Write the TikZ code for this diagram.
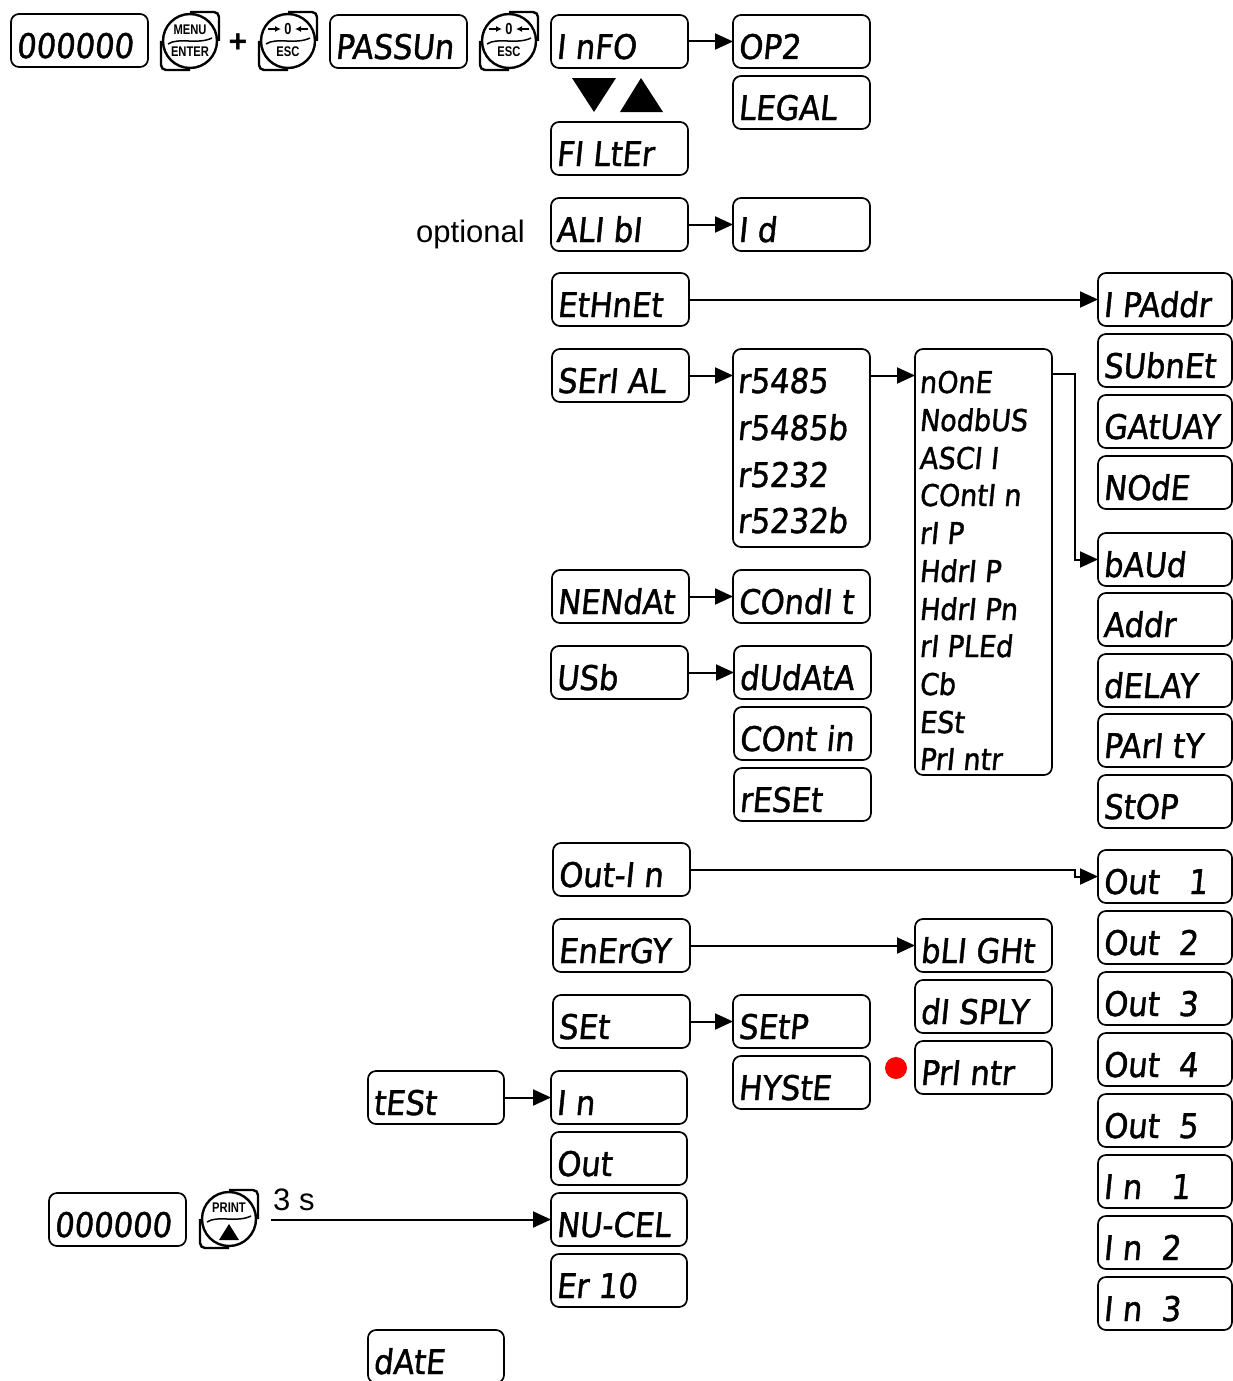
\documentclass[tikz,border=0pt]{standalone}
\usepackage{fontspec}
\setmainfont{Liberation Sans}
\newfontfamily\segfont[FakeStretch=0.9,FakeSlant=0.1,FakeBold=1.2]{DejaVu Sans}
\newfontfamily\keyfont[FakeStretch=0.8]{Liberation Sans}
\usetikzlibrary{arrows.meta,calc}
\tikzset{
  box/.style={draw,line width=1.7pt,rounded corners=8pt,minimum height=53pt,inner sep=0pt,outer sep=0pt},
  seg/.style={font=\segfont\fontsize{34}{34}\selectfont,inner sep=0pt},
  segsmall/.style={font=\segfont\fontsize{30}{30}\selectfont,inner sep=0pt},
  arr/.style={line width=2pt,-{Triangle[length=18pt,width=16pt]}},
  keyline/.style={line width=2.4pt},
  keycirc/.style={circle,draw,fill=white,line width=2.4pt,minimum size=54pt,inner sep=0pt},
  keytxt/.style={font=\keyfont\bfseries\fontsize{14}{14}\selectfont,inner sep=0pt},
  plain/.style={font=\fontsize{31}{31}\selectfont,inner sep=0pt},
}
\newcommand\dbox[5][137]{%
  \node[box,minimum width=#1pt,anchor=north west] (#2) at (#3,#4) {};
  \node[seg,anchor=base west] (#2-t) at ([xshift=5pt,yshift=9pt]#2.south west) {#5};
}
\newcommand\keybtn[3]{%
  \draw[keyline,rounded corners=5pt] (#2,#3-29) -- (#2+29,#3-29) -- (#2+29,#3);
  \draw[keyline,rounded corners=5pt] (#2,#3+29) -- (#2-29,#3+29) -- (#2-29,#3);
  \node[keycirc] (#1) at (#2,#3) {};
}
\newcommand\swash[2]{%
  \draw[line width=1.5pt] (#1-22,#2+3) .. controls (#1-12,#2-4) and (#1+8,#2+4) .. (#1+22,#2-3);
}
\begin{document}
\begin{tikzpicture}[x=1pt,y=-1pt]
\useasboundingbox (0,0) rectangle (1232,1381);

% ---------- top row ----------
\dbox{d0}{11}{14}{000000}
\keybtn{menu}{190}{41}
\node[keytxt] (menu-a) at (190,30) {MENU};
\swash{190}{41}
\node[keytxt] (menu-b) at (190,52) {ENTER};
\node[font=\bfseries\fontsize{32}{32}\selectfont] (plus) at (238,43) {+};
\keybtn{esc1}{288}{41}
\node[keytxt,font=\keyfont\bfseries\fontsize{16}{16}\selectfont] (esc1-z) at (288,29) {0};
\draw[line width=1.4pt,-{Latex[length=6pt,width=6pt]}] (268,29) -- (281,29);
\draw[line width=1.4pt,-{Latex[length=6pt,width=6pt]}] (308,29) -- (295,29);
\swash{288}{41}
\node[keytxt] (esc1-b) at (288,52) {ESC};
\dbox{pass}{330}{15}{PASSUn}
\keybtn{esc2}{509}{41}
\node[keytxt,font=\keyfont\bfseries\fontsize{16}{16}\selectfont] (esc2-z) at (509,29) {0};
\draw[line width=1.4pt,-{Latex[length=6pt,width=6pt]}] (489,29) -- (502,29);
\draw[line width=1.4pt,-{Latex[length=6pt,width=6pt]}] (529,29) -- (516,29);
\swash{509}{41}
\node[keytxt] (esc2-b) at (509,52) {ESC};

\dbox{info}{551}{15}{I nFO}
\dbox{op2}{733}{15}{OP2}
\dbox{legal}{733}{76}{LEGAL}
\fill (572,78) -- (616,78) -- (594,112) -- cycle;
\fill (620,112) -- (663,112) -- (641,78) -- cycle;
\dbox{filter}{551}{122}{FI LtEr}

\node[plain,anchor=base west] (opt) at (416,242) {optional};
\dbox{alibi}{551}{198}{ALI bI}
\dbox{id}{733}{198}{I d}

% ---------- ethernet ----------
\dbox{eth}{552}{273}{EtHnEt}
\dbox[134]{ipaddr}{1098}{273}{I PAddr}
\dbox[134]{subnet}{1098}{334}{SUbnEt}
\dbox[134]{gatway}{1098}{395}{GAtUAY}
\dbox[134]{mode}{1098}{456}{NOdE}

% ---------- serial ----------
\dbox{serial}{552}{349}{SErI AL}
\node[box,minimum width=137pt,minimum height=198pt,anchor=north west] (rs) at (733,349) {};
\node[seg,anchor=base west] (rs1) at (737,393) {r5485};
\node[seg,anchor=base west] (rs2) at (737,440) {r5485b};
\node[seg,anchor=base west] (rs3) at (737,487) {r5232};
\node[seg,anchor=base west] (rs4) at (737,533) {r5232b};

\node[box,minimum width=137pt,minimum height=426pt,anchor=north west] (prot) at (915,349) {};
\node[segsmall,anchor=base west] (p1) at (919,393) {nOnE};
\node[segsmall,anchor=base west] (p2) at (919,431) {NodbUS};
\node[segsmall,anchor=base west] (p3) at (919,469) {ASCI I};
\node[segsmall,anchor=base west] (p4) at (919,506) {COntI n};
\node[segsmall,anchor=base west] (p5) at (919,544) {rI P};
\node[segsmall,anchor=base west] (p6) at (919,582) {HdrI P};
\node[segsmall,anchor=base west] (p7) at (919,620) {HdrI Pn};
\node[segsmall,anchor=base west] (p8) at (919,657) {rI PLEd};
\node[segsmall,anchor=base west] (p9) at (919,695) {Cb};
\node[segsmall,anchor=base west] (p10) at (919,733) {ESt};
\node[segsmall,anchor=base west] (p11) at (919,770) {PrI ntr};

\dbox[134]{baud}{1098}{533}{bAUd}
\dbox[134]{addr}{1098}{593}{Addr}
\dbox[134]{delay}{1098}{654}{dELAY}
\dbox[134]{parity}{1098}{714}{PArI tY}
\dbox[134]{stop}{1098}{775}{StOP}

% ---------- memdat / usb ----------
\dbox{memdat}{552}{570}{NENdAt}
\dbox{condit}{733}{570}{COndI t}
\dbox{usb}{551}{646}{USb}
\dbox{dudata}{734}{646}{dUdAtA}
\dbox{contin}{734}{707}{COnt in}
\dbox{reset}{734}{768}{rESEt}

% ---------- out-in / energy / set ----------
\dbox{outin}{553}{843}{Out-I n}
\dbox{energy}{553}{919}{EnErGY}
\dbox{blight}{915}{919}{bLI GHt}
\dbox{disply}{915}{980}{dI SPLY}
\dbox{printr}{915}{1041}{PrI ntr}
\fill[red] (896,1068) circle[radius=11pt];
\dbox{set}{553}{995}{SEt}
\dbox{setp}{733}{995}{SEtP}
\dbox{hyste}{733}{1056}{HYStE}

\dbox[134]{out1}{1098}{850}{Out \ \ 1}
\dbox[134]{out2}{1098}{911}{Out \ 2}
\dbox[134]{out3}{1098}{972}{Out \ 3}
\dbox[134]{out4}{1098}{1033}{Out \ 4}
\dbox[134]{out5}{1098}{1094}{Out \ 5}
\dbox[134]{in1}{1098}{1155}{I n \ \ 1}
\dbox[134]{in2}{1098}{1216}{I n \ 2}
\dbox[134]{in3}{1098}{1277}{I n \ 3}

% ---------- test ----------
\dbox[136]{test}{368}{1071}{tESt}
\dbox[136]{tin}{551}{1071}{I n}
\dbox[136]{tout}{551}{1132}{Out}
\dbox[136]{mucel}{551}{1193}{NU-CEL}
\dbox[136]{erio}{551}{1254}{Er 10}
\dbox[136]{date}{368}{1330}{dAtE}

\dbox{d1}{49}{1193}{000000}
\keybtn{prt}{229}{1219}
\node[keytxt] (prt-a) at (229,1208) {PRINT};
\swash{229}{1219}
\fill (219,1240) -- (239,1240) -- (229,1224) -- cycle;
\node[plain,anchor=base west] (three) at (273,1210) {3 s};

% ---------- connectors ----------
\draw[arr] (info.east) -- (op2.west);
\draw[arr] (alibi.east) -- (id.west);
\draw[arr] (eth.east) -- (ipaddr.west);
\draw[arr] (serial.east) -- (serial.east -| rs.west);
\draw[arr] (serial.east -| rs.east) -- (serial.east -| prot.west);
\draw[arr] ([yshift=2pt]serial.east -| prot.east) -- ++(23,0) |- (baud.west);
\draw[arr] (memdat.east) -- (condit.west);
\draw[arr] (usb.east) -- (dudata.west);
\draw[arr] (outin.east) -- ++(385,0) |- (out1.west);
\draw[arr] (energy.east) -- (blight.west);
\draw[arr] (set.east) -- (setp.west);
\draw[arr] (test.east) -- (tin.west);
\draw[arr] ([xshift=14pt]prt.east |- mucel.west) -- (mucel.west);
\end{tikzpicture}
\end{document}
